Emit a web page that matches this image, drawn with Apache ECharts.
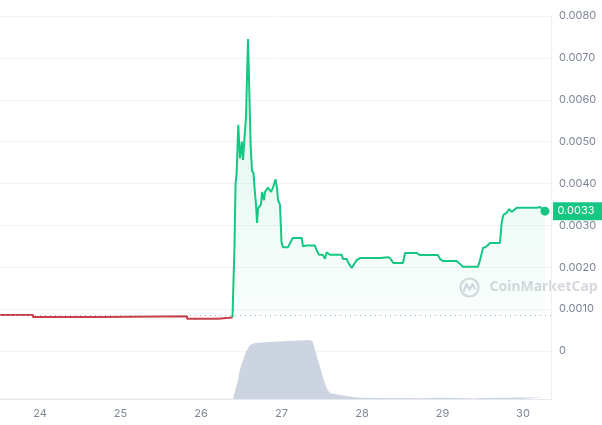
<!DOCTYPE html>
<html>
<head>
<meta charset="utf-8">
<script src="https://cdn.jsdelivr.net/npm/echarts@6/dist/echarts.min.js"></script>
<style>
html,body{margin:0;padding:0;background:#fff;}
#c{width:602px;height:425px;}
</style>
</head>
<body>
<div id="c"></div>
<script>
// Day-of-month ticks shown on the x axis
const xTicks = [24, 25, 26, 27, 28, 29, 30];
// Price before the launch (red, below start)
const redT = [23.503, 23.913, 23.913, 24.770, 24.770, 25.826, 25.826, 26.211, 26.211, 26.391];
const redV = [0.00086, 0.00086, 0.00081, 0.00081, 0.00083, 0.00083, 0.00077, 0.00077, 0.00080, 0.00080];
// Price after the launch (green, above start)
const greenT = [26.391, 26.404, 26.416, 26.429, 26.443, 26.463, 26.484, 26.509, 26.522, 26.559, 26.584,
  26.617, 26.634, 26.652, 26.665, 26.683, 26.696, 26.708, 26.745, 26.758, 26.783, 26.795, 26.832, 26.870,
  26.894, 26.925, 26.944, 26.957, 26.981, 27.000, 27.019, 27.081, 27.139, 27.251, 27.267, 27.313, 27.416,
  27.437, 27.466, 27.512, 27.540, 27.561, 27.602, 27.748, 27.764, 27.810, 27.826, 27.872, 27.888, 27.934,
  27.975, 28.224, 28.244, 28.323, 28.348, 28.389, 28.509, 28.534, 28.680, 28.696, 28.720, 28.944, 28.969,
  29.006, 29.176, 29.217, 29.255, 29.441, 29.466, 29.503, 29.549, 29.590, 29.714, 29.735, 29.755, 29.797,
  29.830, 29.859, 29.922, 30.170, 30.211, 30.273];
const greenV = [0.00080, 0.00080, 0.00250, 0.00400, 0.00425, 0.00540, 0.00460, 0.00500, 0.00456, 0.00560, 0.00745,
  0.00490, 0.00430, 0.00425, 0.00390, 0.00350, 0.00306, 0.00340, 0.00350, 0.00380, 0.00360, 0.00380, 0.00390, 0.00380,
  0.00390, 0.00410, 0.00390, 0.00360, 0.00350, 0.00260, 0.00248, 0.00248, 0.00270, 0.00270, 0.00250, 0.00252, 0.00252,
  0.00240, 0.00230, 0.00230, 0.00220, 0.00236, 0.00230, 0.00230, 0.00220, 0.00220, 0.00212, 0.00198, 0.00198, 0.00217,
  0.00222, 0.00222, 0.00224, 0.00224, 0.00222, 0.00210, 0.00210, 0.00234, 0.00234, 0.00236, 0.00229, 0.00229, 0.00220,
  0.00215, 0.00215, 0.00208, 0.00201, 0.00201, 0.00217, 0.00246, 0.00250, 0.00258, 0.00258, 0.00306, 0.00325, 0.00330,
  0.00339, 0.00332, 0.00342, 0.00342, 0.00344, 0.00334];
// Starting price (dotted reference)
const basePrice = 0.00085;
// Trading volume (relative units)
const volT = [23.503, 24.5, 25.5, 26.398, 26.435, 26.460, 26.484, 26.522, 26.559, 26.584, 26.609, 26.671, 26.857,
  27.068, 27.230, 27.354, 27.391, 27.416, 27.478, 27.528, 27.565, 27.602, 27.727, 27.851, 27.975, 28.224, 28.472,
  28.720, 28.969, 29.217, 29.404, 29.466, 29.776, 29.963, 30.273];
const volV = [0.3, 0.3, 0.3, 0.3, 12, 19, 30, 39, 47, 51, 54, 56, 57,
  58, 58.5, 59, 57, 49, 32, 18, 10, 6, 4, 2.5, 1.3, 1, 1,
  0.8, 1.2, 1, 0.6, 1, 1.2, 1.5, 1.5];

const zip = (a, b) => a.map((t, i) => [t, b[i]]);
const lastT = greenT[greenT.length - 1];
const lastV = greenV[greenV.length - 1];
const X_MIN = 23.503, X_MAX = 30.348;
const GREEN = '#16c784';
const RED = '#c8404a';
const LABEL = '#7d8596';
const FONT = 'Inter';

const chart = echarts.init(document.getElementById('c'), null, {renderer: 'canvas'});
chart.setOption({
  animation: false,
  backgroundColor: '#ffffff',
  grid: [
    {left: 0, right: 51, top: 16, bottom: 74},
    {left: 0, right: 51, top: 339, bottom: 26}
  ],
  xAxis: [
    {type: 'value', gridIndex: 0, min: X_MIN, max: X_MAX, show: false},
    {type: 'value', gridIndex: 1, min: X_MIN, max: X_MAX,
      axisLine: {show: true, lineStyle: {color: '#e6e9ee', width: 1}},
      axisTick: {show: false},
      splitLine: {show: false},
      axisLabel: {customValues: xTicks, color: LABEL, fontSize: 11, fontFamily: FONT, margin: 9,
        formatter: v => String(Math.round(v))}}
  ],
  yAxis: [
    {type: 'value', gridIndex: 0, position: 'right', min: 0, max: 0.008, interval: 0.001,
      axisLine: {show: true, lineStyle: {color: '#eef0f3'}},
      axisTick: {show: false},
      splitLine: {show: true, lineStyle: {color: '#f2f3f5', width: 1}},
      axisLabel: {color: LABEL, fontSize: 11, fontFamily: FONT, margin: 8, align: 'left',
        formatter: v => v === 0 ? '0' : v.toFixed(4)}},
    {type: 'value', gridIndex: 1, position: 'right', min: 0, max: 60,
      axisLine: {show: true, lineStyle: {color: '#eef0f3'}},
      axisTick: {show: false}, axisLabel: {show: false}, splitLine: {show: false}}
  ],
  graphic: [
    {type: 'group', left: 458, top: 276, silent: true, z: -1, children: [
      {type: 'circle', shape: {cx: 10, cy: 10, r: 9}, style: {fill: 'none', stroke: '#d5d9df', lineWidth: 2.2}},
      {type: 'polyline', shape: {points: [[4, 14], [7, 7], [10, 12], [13, 7], [16, 12]]},
        style: {fill: 'none', stroke: '#d5d9df', lineWidth: 2.2}},
      {type: 'text', x: 30, y: 10, style: {text: 'CoinMarketCap', fill: '#d5d9df', fontSize: 14,
        fontWeight: 'bold', fontFamily: 'Noto Sans', verticalAlign: 'middle'}}
    ]}
  ],
  series: [
    {type: 'line', xAxisIndex: 1, yAxisIndex: 1, data: zip(volT, volV), showSymbol: false,
      lineStyle: {width: 0}, areaStyle: {color: '#cdd4e1', opacity: 1}, z: 1},
    {type: 'line', xAxisIndex: 0, yAxisIndex: 0, data: zip(redT, redV), showSymbol: false,
      lineStyle: {color: RED, width: 2}, z: 4},
    {type: 'line', xAxisIndex: 0, yAxisIndex: 0, data: zip(greenT, greenV), showSymbol: false,
      lineStyle: {color: GREEN, width: 2}, z: 3,
      areaStyle: {origin: basePrice, color: new echarts.graphic.LinearGradient(0, 0, 0, 1, [
        {offset: 0, color: 'rgba(22,199,132,0.22)'},
        {offset: 1, color: 'rgba(22,199,132,0.03)'}])},
      markLine: {silent: true, symbol: 'none', label: {show: false},
        lineStyle: {color: '#a7adb8', type: [1, 4], width: 1},
        data: [[{coord: [X_MIN, basePrice]}, {coord: [X_MAX, basePrice]}]]},
      markPoint: {silent: true, data: [
        {coord: [lastT, lastV], symbol: 'rect', symbolSize: [50, 18], symbolOffset: [33, 0],
          itemStyle: {color: GREEN},
          label: {show: true, position: 'inside', offset: [-2, 0], color: '#ffffff', fontSize: 11,
            fontFamily: FONT, formatter: () => lastV.toFixed(4).slice(0, 6)}},
        {coord: [lastT, lastV], symbol: 'circle', symbolSize: 9, itemStyle: {color: GREEN},
          label: {show: false}}
      ]}
    }
  ]
});
</script>
</body>
</html>
